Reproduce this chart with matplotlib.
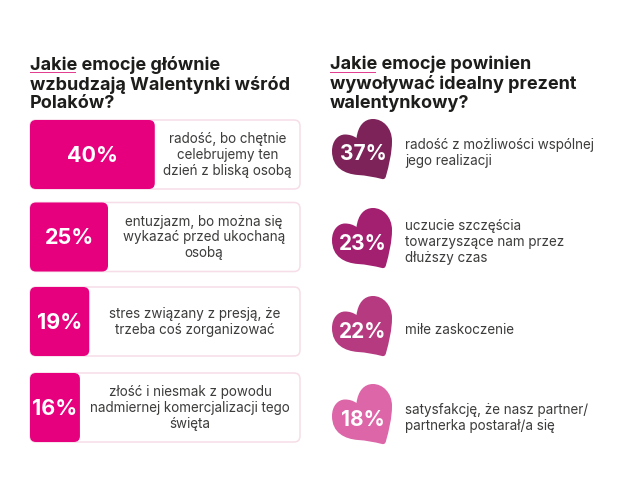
import matplotlib
matplotlib.use("Agg")
import matplotlib.pyplot as plt
from matplotlib.patches import FancyBboxPatch, PathPatch, Rectangle
from matplotlib.path import Path

plt.rcParams['font.family'] = ['Inter', 'DejaVu Sans']

left_title = "Jakie emocje głównie\nwzbudzają Walentynki wśród\nPolaków?"
right_title = "Jakie emocje powinien\nwywoływać idealny prezent\nwalentynkowy?"
left_values = [40, 25, 19, 16]
left_labels = [
    "radość, bo chętnie\ncelebrujemy ten\ndzień z bliską osobą",
    "entuzjazm, bo można się\nwykazać przed ukochaną\nosobą",
    "stres związany z presją, że\ntrzeba coś zorganizować",
    "złość i niesmak z powodu\nnadmiernej komercjalizacji tego\nświęta",
]
right_values = [37, 23, 22, 18]
right_labels = [
    "radość z możliwości wspólnej\njego realizacji",
    "uczucie szczęścia\ntowarzyszące nam przez\ndłuższy czas",
    "miłe zaskoczenie",
    "satysfakcję, że nasz partner/\npartnerka postarał/a się",
]
heart_colors = ["#7d2359", "#a2206f", "#b63a80", "#dc66a8"]

PINK = "#e6007e"
BORDER = "#f6dde8"
DARK = "#1d1d1b"
GREY = "#3c3c3b"

fig = plt.figure(figsize=(6.3, 5.0), dpi=100, facecolor="white")
ax = fig.add_axes([0, 0, 1, 1])
ax.set_xlim(0, 630)
ax.set_ylim(500, 0)
ax.axis("off")

# bar panel: x axis in percent
PX_PER_PCT = 3.12
X0, X1 = 30, 300
bx = fig.add_axes([X0 / 630, 0, (X1 - X0) / 630, 1])
bx.set_xlim(0, (X1 - X0) / PX_PER_PCT)
bx.set_ylim(500, 0)
bx.axis("off")
bx.patch.set_alpha(0)

ROW_TOPS = [120, 202.5, 287, 373]
ROW_H = 69
ax_scale = PX_PER_PCT

def rounded(axis, x, y, w, h, r_px, **kw):
    # x, w in percent; y, h in pixels
    r = r_px / ax_scale
    pad = r
    p = FancyBboxPatch((x + pad, y + r_px), w - 2 * pad, h - 2 * r_px,
                       boxstyle=f"round,pad={pad},rounding_size={r}",
                       mutation_aspect=ax_scale, clip_on=False, **kw)
    axis.add_patch(p)
    return p

full = (X1 - X0) / PX_PER_PCT
for top, val, lab in zip(ROW_TOPS, left_values, left_labels):
    rounded(bx, 0, top, full, ROW_H, 6, facecolor="white", edgecolor=BORDER, linewidth=1.1)
    rounded(bx, 0, top, val, ROW_H, 6, facecolor=PINK, edgecolor="none")
    bx.text(val / 2, top + ROW_H / 2 + 1.5, f"{val}%", color="white", fontsize=15.5,
            fontweight="bold", ha="center", va="center")
    bx.text((val + full) / 2, top + ROW_H / 2 + 0.5, lab, color=GREY, fontsize=9.7,
            ha="center", va="center", linespacing=1.14)

# hearts
heart_verts = [
    (356.5, 138),
    (358, 126), (364, 119), (373, 119),
    (383, 119), (392, 128), (392, 141),
    (392, 153), (389, 165), (386, 176),
    (385.5, 178.5), (384, 179.5), (382, 179),
    (374, 177), (366, 175.5), (358, 175),
    (345, 174), (332, 168), (332, 151),
    (332, 141), (338, 134.5), (345, 134.5),
    (349, 134.5), (353, 135.5), (356.5, 138),
]
heart_codes = [Path.MOVETO] + [Path.CURVE4] * 24
HEART_TOPS = [119, 208, 296, 384]
for top, val, col, lab in zip(HEART_TOPS, right_values, heart_colors, right_labels):
    dy = top - 119
    verts = [(x, y + dy) for x, y in heart_verts]
    ax.add_patch(PathPatch(Path(verts, heart_codes), facecolor=col, edgecolor="none"))
    ax.text(363, top + 35.5, f"{val}%", color="white", fontsize=15, fontweight="bold",
            ha="center", va="center")
    ax.text(405, top + 34, lab, color=GREY, fontsize=9.7, ha="left", va="center",
            linespacing=1.14)

# titles
for x, t in ((30, left_title), (330, right_title)):
    ax.text(x, 84, t, color=DARK, fontsize=13, fontweight="bold", ha="left", va="center",
            linespacing=1.13, zorder=2)
    ax.add_patch(Rectangle((x, 71.5), 46, 1.5, facecolor="#e0408f", edgecolor="none", zorder=3))

fig.savefig("out.png", dpi=100)
